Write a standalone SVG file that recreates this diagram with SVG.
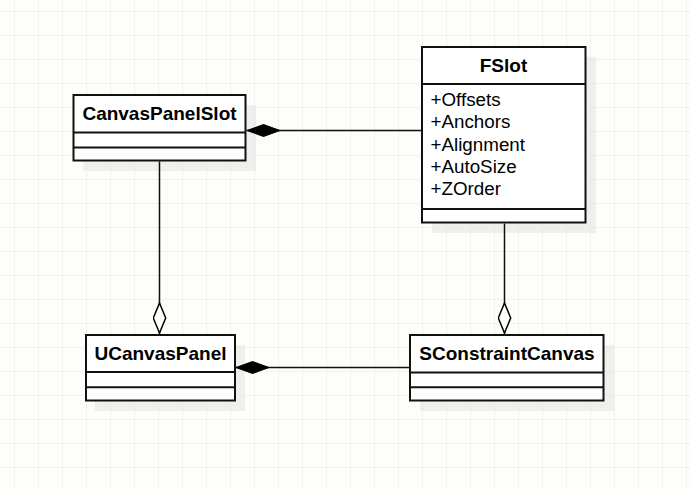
<svg xmlns="http://www.w3.org/2000/svg" width="691" height="488" viewBox="0 0 691 488">
  <defs>
    <pattern id="grid" x="14" y="11" width="24" height="24" patternUnits="userSpaceOnUse">
      <path d="M0 0 H24 M0 0 V24" fill="none" stroke="#e6e6e6" stroke-width="1"/>
    </pattern>
    <marker id="diamondFilled" viewBox="0 0 34 14" refX="34" refY="7" markerWidth="34" markerHeight="14" markerUnits="userSpaceOnUse" orient="auto">
      <path d="M0.5 7 L17 1 L33.5 7 L17 13 Z" fill="#000" stroke="#000" stroke-width="1"/>
    </marker>
    <marker id="diamondOpen" viewBox="0 0 32 14" refX="32" refY="7" markerWidth="32" markerHeight="14" markerUnits="userSpaceOnUse" orient="auto">
      <path d="M1 7 L16 0.8 L31 7 L16 13.2 Z" fill="#fff" stroke="#000" stroke-width="1.5"/>
    </marker>
  </defs>
  <style>
    .shadow { fill: #e4e4e4; opacity: 0.55; }
    .box { fill: #ffffff; stroke: #111; stroke-width: 2; }
    .div { stroke: #111; stroke-width: 2; }
    .title { font-family: "Liberation Sans", Arial, sans-serif; font-size: 19px; font-weight: bold; fill: #000; text-anchor: middle; }
    .attr { font-family: "Liberation Sans", Arial, sans-serif; font-size: 18.8px; fill: #000; }
    .conn { fill: none; stroke: #111; stroke-width: 1.5; }
  </style>
  <rect x="0" y="0" width="691" height="488" fill="#fdfdf9"/>
  <rect x="0" y="0" width="691" height="488" fill="url(#grid)"/>

  <g id="CanvasPanelSlot">
    <rect class="shadow" x="83" y="105" width="173" height="66"/>
    <rect class="box" x="73.5" y="95" width="172" height="65.5"/>
    <line class="div" x1="73.5" y1="132.5" x2="245.5" y2="132.5"/>
    <line class="div" x1="73.5" y1="147.5" x2="245.5" y2="147.5"/>
    <text class="title" x="159.5" y="120">CanvasPanelSlot</text>
  </g>

  <g id="FSlot">
    <rect class="shadow" x="432" y="57" width="164" height="176"/>
    <rect class="box" x="422" y="47" width="163.5" height="175.5"/>
    <line class="div" x1="422" y1="84" x2="585.5" y2="84"/>
    <line class="div" x1="422" y1="209" x2="585.5" y2="209"/>
    <text class="title" x="503.5" y="72">FSlot</text>
    <text class="attr" x="430.5" y="106">+Offsets</text>
    <text class="attr" x="430.5" y="128.3">+Anchors</text>
    <text class="attr" x="430.5" y="150.6">+Alignment</text>
    <text class="attr" x="430.5" y="172.9">+AutoSize</text>
    <text class="attr" x="430.5" y="195.2">+ZOrder</text>
  </g>

  <g id="UCanvasPanel">
    <rect class="shadow" x="95" y="345" width="150" height="66"/>
    <rect class="box" x="86" y="335" width="149" height="65.5"/>
    <line class="div" x1="86" y1="372" x2="235" y2="372"/>
    <line class="div" x1="86" y1="387.3" x2="235" y2="387.3"/>
    <text class="title" x="160.5" y="359.5">UCanvasPanel</text>
  </g>

  <g id="SConstraintCanvas">
    <rect class="shadow" x="420" y="345" width="194" height="66"/>
    <rect class="box" x="410" y="335" width="193.5" height="65.5"/>
    <line class="div" x1="410" y1="372.5" x2="603.5" y2="372.5"/>
    <line class="div" x1="410" y1="387.3" x2="603.5" y2="387.3"/>
    <text class="title" x="507" y="360">SConstraintCanvas</text>
  </g>

  <g id="connectors">
    <path class="conn" d="M421 130.5 H246.5" marker-end="url(#diamondFilled)"/>
    <path class="conn" d="M409 367.5 H235.5" marker-end="url(#diamondFilled)"/>
    <path class="conn" d="M159.5 161.5 V334" marker-end="url(#diamondOpen)"/>
    <path class="conn" d="M504.5 223.5 V334" marker-end="url(#diamondOpen)"/>
  </g>
</svg>
